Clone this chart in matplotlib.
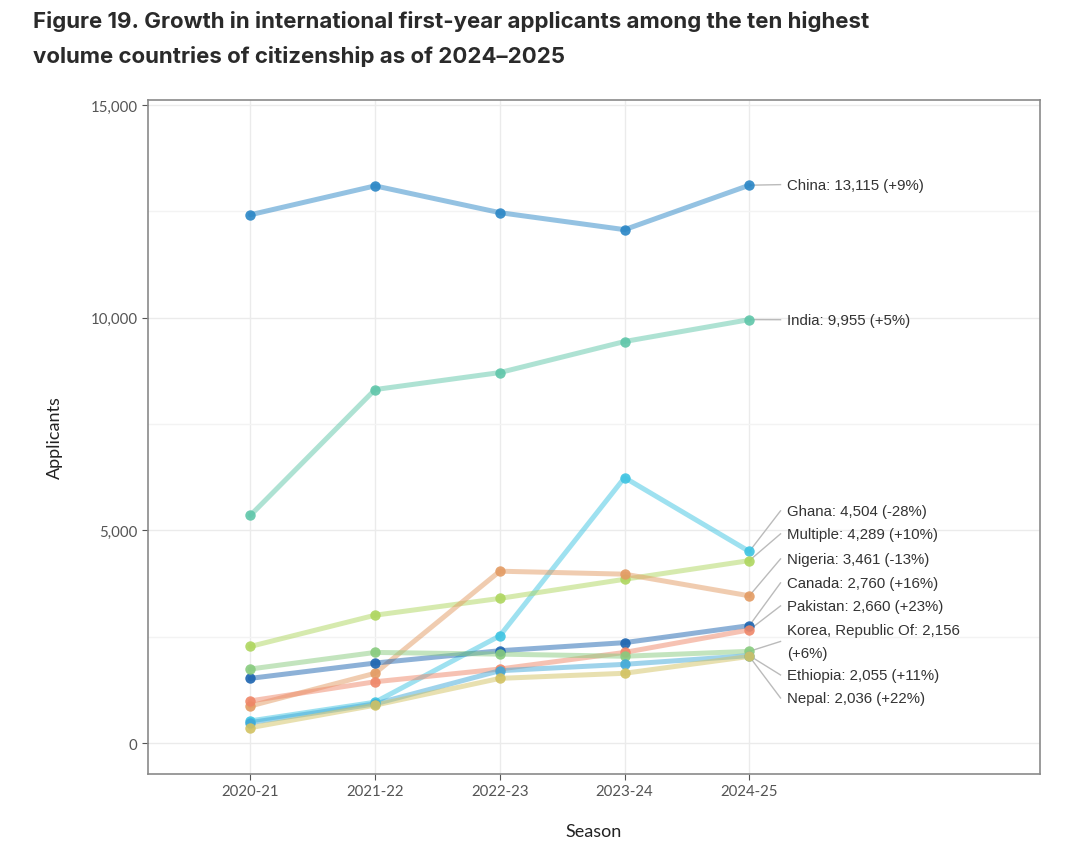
import numpy as np
import matplotlib
matplotlib.use("Agg")
import matplotlib.pyplot as plt
from matplotlib.ticker import FuncFormatter, MultipleLocator

# data
seasons = ["2020-21", "2021-22", "2022-23", "2023-24", "2024-25"]
countries = ["China", "India", "Ghana", "Multiple", "Nigeria", "Canada",
             "Pakistan", "Korea, Republic Of", "Ethiopia", "Nepal"]
china = [12420, 13100, 12470, 12070, 13115]
india = [5350, 8310, 8710, 9440, 9955]
ghana = [520, 960, 2520, 6240, 4504]
multiple = [2270, 3005, 3400, 3850, 4289]
nigeria = [870, 1640, 4040, 3970, 3461]
canada = [1520, 1880, 2170, 2360, 2760]
pakistan = [990, 1440, 1740, 2130, 2660]
korea = [1740, 2130, 2090, 2040, 2156]
ethiopia = [480, 920, 1700, 1850, 2055]
nepal = [360, 890, 1520, 1640, 2036]
growth = ["+9%", "+5%", "-28%", "+10%", "-13%", "+16%", "+23%", "+6%", "+11%", "+22%"]

series = [china, india, ghana, multiple, nigeria, canada, pakistan, korea, ethiopia, nepal]
colors = ["#2A86C6", "#5FC6A9", "#3EC4E2", "#AED65F", "#E39B63", "#1C64B0",
          "#EF8668", "#88CB7E", "#41A9D8", "#D2C262"]

# label layout (vertical placement of end labels, in data units)
label_y = [13129, 9953, 5459, 4918, 4329, 3765, 3224, 2388, 1600, 1059]

fig = plt.figure(figsize=(10.8, 8.62), dpi=100)
ax = fig.add_axes([0.137, 0.1009, 0.826, 0.7819])

x = np.arange(len(seasons))
for vals, c in zip(series, colors):
    ax.plot(x, vals, color=c, lw=3.6, alpha=0.5, solid_capstyle="round", zorder=3)
    ax.plot(x, vals, "o", color=c, ms=7.5, alpha=0.9, mec="none", zorder=4)

# end labels with connectors
lab_x = 4.30
for name, vals, g, ly in zip(countries, series, growth, label_y):
    txt = f"{name}: {vals[-1]:,} ({g})"
    if name.startswith("Korea"):
        txt = f"{name}: {vals[-1]:,}\n({g})"
    ax.plot([x[-1], lab_x - 0.05], [vals[-1], ly], color="#BBBBBB", lw=1, zorder=2)
    ax.text(lab_x, ly, txt, va="center", ha="left", fontsize=10.8,
            family="Liberation Sans", color="#333333", linespacing=1.85)

ax.set_xlim(-0.82, 6.33)
ax.set_ylim(-729, 15118)
ax.set_xticks(x)
ax.set_xticklabels(seasons)
ax.yaxis.set_major_locator(MultipleLocator(5000))
ax.yaxis.set_minor_locator(MultipleLocator(2500))
ax.yaxis.set_major_formatter(FuncFormatter(lambda v, p: f"{int(v):,}"))

ax.grid(True, which="major", color="#EBEBEB", lw=1)
ax.grid(True, which="minor", axis="y", color="#F3F3F3", lw=1)
ax.set_axisbelow(True)
for s in ax.spines.values():
    s.set_color("#8A8A8A")
    s.set_linewidth(1.2)
ax.tick_params(axis="both", which="major", length=4, color="#555555",
               labelsize=10.8, labelcolor="#555555")
ax.tick_params(axis="y", which="minor", length=0)
for lab in ax.get_xticklabels() + ax.get_yticklabels():
    lab.set_family("Lato")

ax.set_xlabel("Season", fontsize=13, family="Lato", color="#222222", labelpad=18)
ax.set_ylabel("Applicants", fontsize=13, family="Lato", color="#222222", labelpad=20)

title_lines = ["Figure 19. Growth in international first-year applicants among the ten highest",
               "volume countries of citizenship as of 2024\u20132025"]
for i, line in enumerate(title_lines):
    fig.text(0.0306, 0.9675 - i * 0.0406, line, ha="left", va="baseline",
             fontsize=16, fontweight="bold", family="Inter", color="#2A2A2A")

fig.savefig("out.png", dpi=100, facecolor="white")
